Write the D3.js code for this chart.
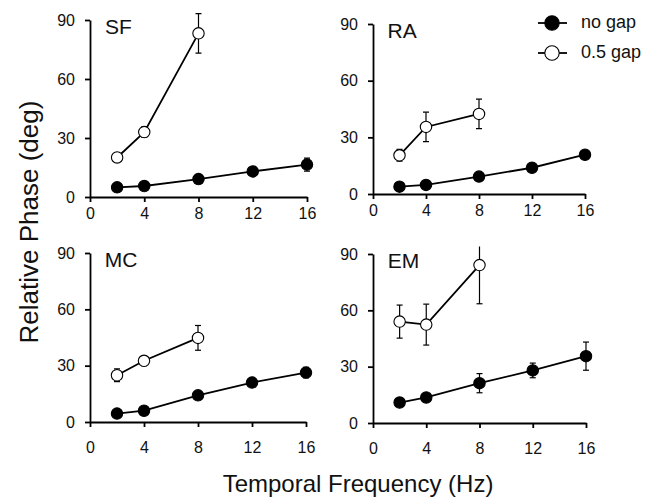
<!DOCTYPE html>
<html lang="en">
<head>
    <meta charset="UTF-8">
    <title>Relative Phase vs Temporal Frequency</title>
    <script src="https://d3js.org/d3.v7.min.js"></script>
    <style>
        body {
            margin: 0;
            background: white;
            font-family: 'Liberation Sans', Arial, sans-serif;
        }
        .axis path,
        .axis line {
            stroke: black;
            stroke-width: 1.8px;
        }
        .axis text {
            font-family: 'Liberation Sans', Arial, sans-serif;
            font-size: 16px;
            fill: #111;
        }
    </style>
</head>
<body>
    <div id="chart"></div>
    <script>
        // data
        const panelNames = ["SF", "RA", "MC", "EM"];
        const freqs = [2, 4, 8, 12, 16];
        const gapFreqs = [2, 4, 8];
        const xTicks = [0, 4, 8, 12, 16];
        const yTicks = [0, 30, 60, 90];

        const noGapMean = [
            [4.9, 5.6, 9.1, 13.0, 16.5],
            [3.9, 4.8, 9.2, 13.9, 20.8],
            [4.5, 6.0, 14.2, 21.0, 26.3],
            [10.9, 13.6, 21.2, 28.0, 35.6]
        ];
        const noGapErr = [
            [1.0, 1.0, 1.0, 2.2, 3.3],
            [0.8, 0.8, 0.8, 1.0, 1.2],
            [0.8, 0.8, 1.0, 1.5, 2.8],
            [1.0, 1.2, 5.1, 3.9, 7.5]
        ];
        const gapMean = [
            [20.1, 33.0, 83.2],
            [20.5, 35.5, 42.4],
            [24.9, 32.6, 44.8],
            [54.0, 52.4, 84.1]
        ];
        const gapErr = [
            [1.0, 2.7, 10.0],
            [3.1, 7.8, 7.8],
            [3.4, 2.6, 6.6],
            [8.8, 10.9, 20.6]
        ];
        const legendLabels = ["no gap", "0.5 gap"];

        const W = 657, H = 499;
        const svg = d3.select("#chart").append("svg")
            .attr("width", W)
            .attr("height", H);

        // panel boxes: x0,x1 = pixel of 0 and 16; y0,y1 = pixel of 0 and 90
        const boxes = [
            { x0: 90, x1: 307, y0: 197, y1: 20, pad: 6 },
            { x0: 373, x1: 585, y0: 194, y1: 24, pad: 6 },
            { x0: 90, x1: 306, y0: 422, y1: 253, pad: 15 },
            { x0: 373, x1: 586, y0: 423, y1: 254, pad: 15 }
        ];

        const defs = svg.append("defs");

        panelNames.forEach((name, i) => {
            const b = boxes[i];
            const x = d3.scaleLinear().domain([0, 16]).range([b.x0, b.x1]);
            const y = d3.scaleLinear().domain([0, 90]).range([b.y0, b.y1]);

            const g = svg.append("g");

            g.append("g")
                .attr("class", "axis")
                .attr("transform", `translate(0,${b.y0})`)
                .call(d3.axisBottom(x).tickValues(xTicks).tickSize(5).tickSizeOuter(0).tickPadding(b.pad));

            g.append("g")
                .attr("class", "axis")
                .attr("transform", `translate(${b.x0},0)`)
                .call(d3.axisLeft(y).tickValues(yTicks).tickSize(5).tickSizeOuter(0).tickPadding(10));

            g.append("text")
                .attr("x", x(1.1))
                .attr("y", y(90) + 14)
                .attr("font-size", 21)
                .attr("fill", "#111")
                .text(name);

            // clip so the long error bar stops just above the top of the axis
            const clipId = "clip" + i;
            defs.append("clipPath").attr("id", clipId)
                .append("rect")
                .attr("x", b.x0).attr("y", y(94))
                .attr("width", b.x1 - b.x0 + 20)
                .attr("height", y(0) - y(94) + 10);

            const plot = g.append("g").attr("clip-path", `url(#${clipId})`);

            const line = d3.line().x(d => x(d[0])).y(d => y(d[1]));

            const series = [
                { xs: freqs, m: noGapMean[i], e: noGapErr[i], fill: "black" },
                { xs: gapFreqs, m: gapMean[i], e: gapErr[i], fill: "white" }
            ];

            series.forEach(s => {
                const pts = s.xs.map((f, k) => [f, s.m[k], s.e[k]]);

                plot.append("path")
                    .datum(pts)
                    .attr("fill", "none")
                    .attr("stroke", "black")
                    .attr("stroke-width", 1.8)
                    .attr("d", line);

                const eb = plot.selectAll(null)
                    .data(pts)
                    .enter()
                    .append("g")
                    .attr("stroke", "black")
                    .attr("stroke-width", 1.2);
                eb.append("line")
                    .attr("x1", d => x(d[0])).attr("x2", d => x(d[0]))
                    .attr("y1", d => y(d[1] - d[2])).attr("y2", d => y(d[1] + d[2]));
                eb.append("line")
                    .attr("x1", d => x(d[0]) - 3).attr("x2", d => x(d[0]) + 3)
                    .attr("y1", d => y(d[1] - d[2])).attr("y2", d => y(d[1] - d[2]));
                eb.append("line")
                    .attr("x1", d => x(d[0]) - 3).attr("x2", d => x(d[0]) + 3)
                    .attr("y1", d => y(d[1] + d[2])).attr("y2", d => y(d[1] + d[2]));

                g.selectAll(null)
                    .data(pts)
                    .enter()
                    .append("circle")
                    .attr("cx", d => x(d[0]))
                    .attr("cy", d => y(d[1]))
                    .attr("r", 5.7)
                    .attr("fill", s.fill)
                    .attr("stroke", "black")
                    .attr("stroke-width", 1.1);
            });
        });

        // legend
        const legend = svg.append("g");
        const legendY = d3.scalePoint().domain(legendLabels).range([23, 53]);
        legendLabels.forEach((lab, k) => {
            const yy = legendY(lab);
            legend.append("line")
                .attr("x1", 538).attr("x2", 567)
                .attr("y1", yy).attr("y2", yy)
                .attr("stroke", "black")
                .attr("stroke-width", 1.8);
            legend.append("circle")
                .attr("cx", 552).attr("cy", yy)
                .attr("r", 7.2)
                .attr("fill", k === 0 ? "black" : "white")
                .attr("stroke", "black")
                .attr("stroke-width", 1.1);
            legend.append("text")
                .attr("x", 581).attr("y", yy)
                .attr("dy", "0.3em")
                .attr("font-size", 18)
                .attr("fill", "#111")
                .text(lab);
        });

        // axis titles
        svg.append("text")
            .attr("transform", "translate(38,222) rotate(-90)")
            .attr("text-anchor", "middle")
            .attr("font-size", 26)
            .attr("fill", "#111")
            .text("Relative Phase (deg)");

        svg.append("text")
            .attr("x", 358)
            .attr("y", 492)
            .attr("text-anchor", "middle")
            .attr("font-size", 24)
            .attr("fill", "#111")
            .text("Temporal Frequency (Hz)");
    </script>
</body>
</html>
